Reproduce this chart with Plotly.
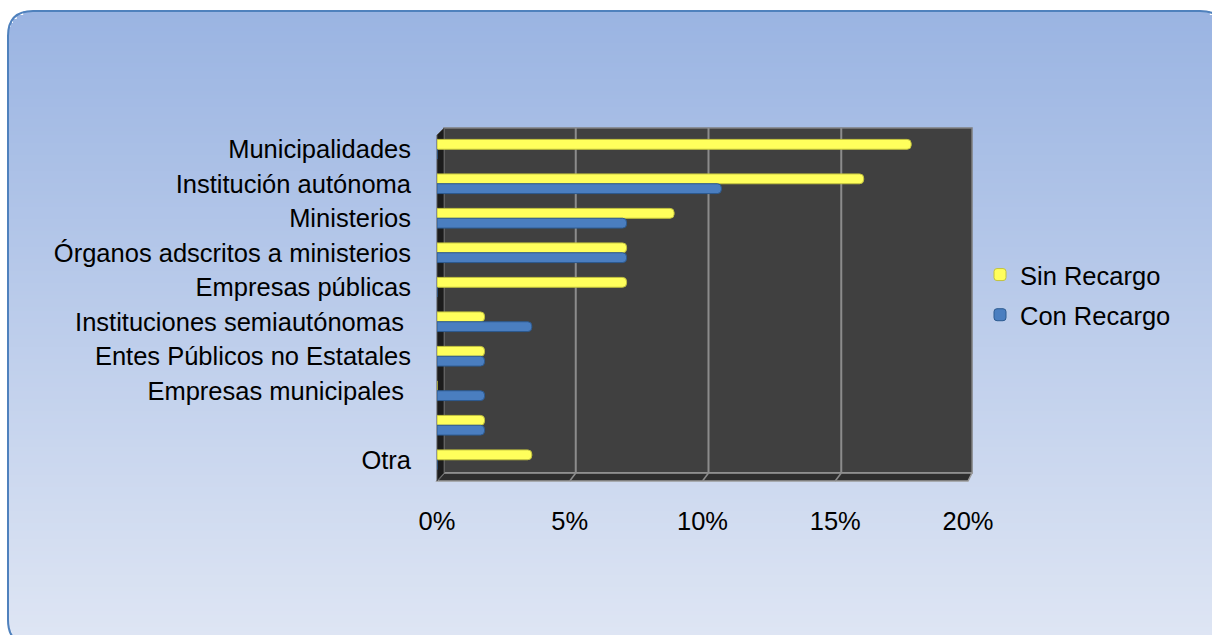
import math
import plotly.graph_objects as go

W, H = 1212, 635

categories = [
    "Municipalidades",
    "Institución autónoma",
    "Ministerios",
    "Órganos adscritos a ministerios",
    "Empresas públicas",
    "Instituciones semiautónomas\u00a0",
    "Entes Públicos no Estatales",
    "Empresas municipales\u00a0",
    " ",
    "Otra",
]
sin_recargo = [17.86, 16.07, 8.93, 7.14, 7.14, 1.79, 1.79, 0.0, 1.79, 3.57]
con_recargo = [0.0, 10.71, 7.14, 7.14, 0.0, 3.57, 1.79, 1.79, 1.79, 0.0]
x_ticks = [0, 5, 10, 15, 20]
x_tick_labels = ["0%", "5%", "10%", "15%", "20%"]
grid_values = [5, 10, 15]


def px(x):
    return x / W


def py(y):
    return 1 - y / H


# front plane of the plot (bars and tick labels), in pixels
PL, PR, PT, PB = 437, 968, 132, 477
# back wall
BWL, BWR, BWT, BWB = 444, 972, 128, 473
FLOOR_Y = 481

fig = go.Figure()
fig.add_trace(go.Bar(
    y=categories, x=sin_recargo, orientation="h", name="Sin Recargo",
    legendgroup="sin",
    marker=dict(color="#FFFF5C", line=dict(color="#C2C23E", width=1),
                cornerradius=4),
))
fig.add_trace(go.Bar(
    y=categories, x=con_recargo, orientation="h", name="Con Recargo",
    legendgroup="con",
    marker=dict(color="#4A7EC0", line=dict(color="#2C5A90", width=1),
                cornerradius=4),
))

shapes = []
# gradient background inside rounded rectangle
BL, BT, BR, BB, R = 8, 11, 1225, 645, 25
top_c = (154, 180, 226)
bot_c = (223, 230, 244)
step = 4
y = BT
while y < H:
    y1 = min(y + step, H)
    ym = (y + y1) / 2
    t = (ym - BT) / (BB - BT)
    c = tuple(int(round(top_c[i] + (bot_c[i] - top_c[i]) * t)) for i in range(3))
    inset = 0
    if ym < BT + R:
        d = BT + R - ym
        inset = R - math.sqrt(max(R * R - d * d, 0))
    elif ym > BB - R:
        d = ym - (BB - R)
        inset = R - math.sqrt(max(R * R - d * d, 0))
    shapes.append(dict(
        type="rect", xref="paper", yref="paper", layer="below",
        x0=px(BL + inset), x1=px(BR - inset), y0=py(y1 + 0.5), y1=py(y),
        fillcolor="rgb(%d,%d,%d)" % c, line=dict(width=0),
    ))
    y = y1

# rounded border
path = (
    f"M {px(BL)},{py(BT+R)} Q {px(BL)},{py(BT)} {px(BL+R)},{py(BT)} "
    f"L {px(BR-R)},{py(BT)} Q {px(BR)},{py(BT)} {px(BR)},{py(BT+R)} "
    f"L {px(BR)},{py(BB-R)} Q {px(BR)},{py(BB)} {px(BR-R)},{py(BB)} "
    f"L {px(BL+R)},{py(BB)} Q {px(BL)},{py(BB)} {px(BL)},{py(BB-R)} Z"
)
shapes.append(dict(type="path", xref="paper", yref="paper", layer="below",
                   path=path, line=dict(color="#4F81BD", width=2)))

# back wall
shapes.append(dict(type="rect", xref="paper", yref="paper", layer="below",
                   x0=px(BWL), x1=px(BWR), y0=py(BWB), y1=py(BWT),
                   fillcolor="#404040", line=dict(color="#7f7f7f", width=1.5)))
# floor
fl = (f"M {px(BWL)},{py(BWB)} L {px(BWR)},{py(BWB)} L {px(PR)},{py(FLOOR_Y)} "
      f"L {px(PL)},{py(FLOOR_Y)} Z")
shapes.append(dict(type="path", xref="paper", yref="paper", layer="below",
                   path=fl, fillcolor="#2e2e2e", line=dict(color="#9a9a9a", width=1.5)))
# left wall
lw = (f"M {px(PL)},{py(135)} L {px(BWL)},{py(BWT)} L {px(BWL)},{py(BWB)} "
      f"L {px(PL)},{py(FLOOR_Y)} Z")
shapes.append(dict(type="path", xref="paper", yref="paper", layer="below",
                   path=lw, fillcolor="#1c1c1c", line=dict(color="#555555", width=1)))
# grid lines on the back wall (offset for the 3D depth)
for g in grid_values:
    shapes.append(dict(type="line", layer="below",
                       xref="x", xsizemode="pixel", xanchor=g, x0=6, x1=6,
                       yref="paper", y0=py(BWB), y1=py(BWT),
                       line=dict(color="#8c8c8c", width=2)))
    shapes.append(dict(type="line", layer="below",
                       xref="x", xsizemode="pixel", xanchor=g, x0=0, x1=6,
                       yref="paper", y0=py(FLOOR_Y), y1=py(BWB),
                       line=dict(color="#8c8c8c", width=1.5)))

FONT = "Liberation Sans, Arial, sans-serif"
FS = 25.5

fig.update_layout(
    width=W, height=H, autosize=False,
    margin=dict(l=0, r=0, t=0, b=0, pad=0, autoexpand=False),
    paper_bgcolor="white",
    plot_bgcolor="rgba(0,0,0,0)",
    barmode="group", bargap=0.43, bargroupgap=0.0,
    font=dict(family=FONT, size=FS, color="black"),
    shapes=shapes,
    showlegend=True,
    legend=dict(
        x=px(980), y=py(295), xanchor="left", yanchor="middle",
        bgcolor="rgba(0,0,0,0)", font=dict(size=FS, family=FONT),
        traceorder="grouped", itemwidth=30, tracegroupgap=4,
    ),
    xaxis=dict(
        domain=[px(PL), px(PR)], range=[0, 20],
        tickvals=x_ticks, ticktext=x_tick_labels,
        showgrid=False, zeroline=False, showline=False, ticks="",
        ticklabelstandoff=26, tickfont=dict(size=FS), automargin=False,
    ),
    yaxis=dict(
        domain=[py(PB), py(PT)],
        categoryorder="array", categoryarray=categories,
        autorange="reversed",
        showgrid=False, zeroline=False, showline=False, ticks="",
        ticklabelstandoff=25, tickfont=dict(size=FS), automargin=False,
    ),
)

fig.write_html(
    "out.html",
    config={"displayModeBar": False, "staticPlot": True},
    post_script="document.body.style.margin='0';document.body.style.overflow='hidden';",
)
